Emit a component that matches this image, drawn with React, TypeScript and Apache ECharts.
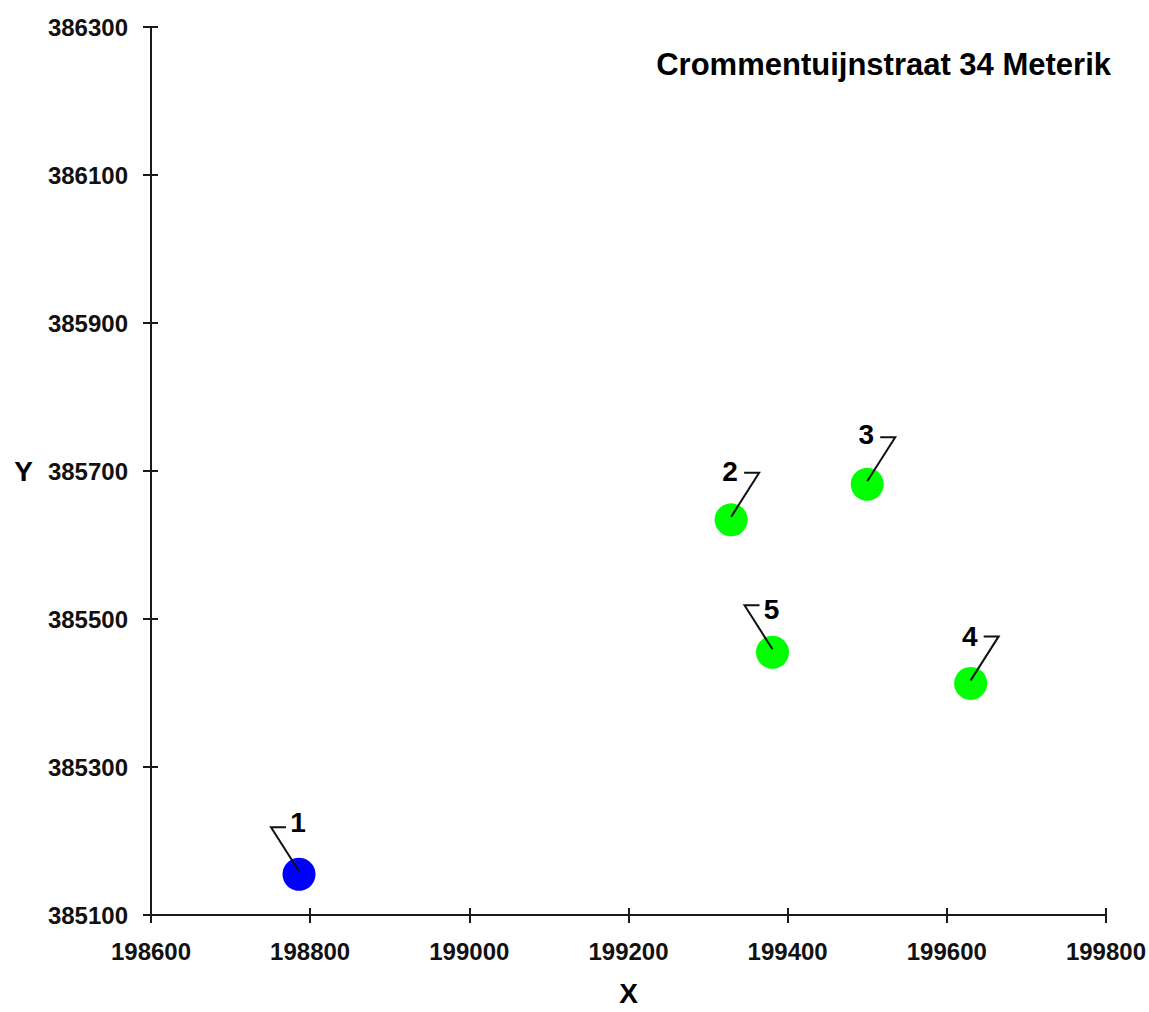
import React, { useEffect, useRef } from "react";
import * as echarts from "echarts";

const titleText = "Crommentuijnstraat 34 Meterik";
const pointIds = [1, 2, 3, 4, 5];
const xValues = [198786, 199329, 199500, 199630, 199381];
const yValues = [385155, 385634, 385682, 385413, 385455];
const pointColors = ["#0000FF", "#00FF00", "#00FF00", "#00FF00", "#00FF00"];
// label layout: side of the leader (-1 left, 1 right) and label vertical offset
const labelSide = [-1, 1, 1, 1, -1];
const labelDy = [-52, -48, -50, -47, -43];

const xMin = 198600;
const xMax = 199800;
const yMin = 385100;
const yMax = 386300;
const step = 200;

export default function App() {
  const ref = useRef<HTMLDivElement>(null);
  useEffect(() => {
    document.body.style.margin = "0";
    document.body.style.overflow = "hidden";
    document.documentElement.style.overflow = "hidden";
    const chart = echarts.init(ref.current!, null, { renderer: "svg" });
    const font = "Liberation Sans, Arial, sans-serif";
    const pts = xValues.map((x, i) => [x, yValues[i]]);
    const baseAxis = {
      axisLine: { show: true, lineStyle: { color: "#1a1a1a", width: 2 } },
      splitLine: { show: false },
    };
    const fmt = (v: number) => String(v);
    chart.setOption({
      animation: false,
      backgroundColor: "#ffffff",
      title: {
        text: titleText,
        right: 33,
        top: 44,
        textStyle: { fontFamily: font, fontWeight: "bold", fontSize: 31, color: "#000" },
      },
      grid: { left: 151, right: 43, top: 27, bottom: 94, containLabel: false },
      xAxis: [
        {
          ...baseAxis,
          type: "value",
          position: "bottom",
          min: xMin,
          max: xMax,
          interval: step,
          name: "X",
          nameLocation: "middle",
          nameGap: 64,
          nameTextStyle: { fontFamily: font, fontWeight: "bold", fontSize: 28, color: "#000" },
          axisTick: { show: true, length: 8, lineStyle: { color: "#1a1a1a", width: 2 } },
          axisLabel: {
            margin: 24,
            fontFamily: font,
            fontWeight: "bold",
            fontSize: 24,
            color: "#111",
            formatter: fmt,
          },
        },
        {
          ...baseAxis,
          type: "value",
          position: "bottom",
          offset: 0,
          min: xMin,
          max: xMax,
          interval: step,
          axisTick: { show: true, inside: true, length: 7, lineStyle: { color: "#1a1a1a", width: 2 } },
          axisLabel: { show: false },
        },
      ],
      yAxis: [
        {
          ...baseAxis,
          type: "value",
          position: "left",
          min: yMin,
          max: yMax,
          interval: step,
          name: "Y",
          nameLocation: "middle",
          nameRotate: 0,
          nameGap: 118,
          nameTextStyle: { fontFamily: font, fontWeight: "bold", fontSize: 28, color: "#000" },
          axisTick: { show: true, length: 8, lineStyle: { color: "#1a1a1a", width: 2 } },
          axisLabel: {
            margin: 23,
            fontFamily: font,
            fontWeight: "bold",
            fontSize: 24,
            color: "#111",
            formatter: fmt,
          },
        },
        {
          ...baseAxis,
          type: "value",
          position: "left",
          offset: 0,
          min: yMin,
          max: yMax,
          interval: step,
          axisTick: { show: true, inside: true, length: 7, lineStyle: { color: "#1a1a1a", width: 2 } },
          axisLabel: { show: false },
        },
      ],
      series: [
        {
          type: "scatter",
          xAxisIndex: 0,
          yAxisIndex: 0,
          symbol: "circle",
          symbolSize: 33,
          z: 2,
          data: pts.map((p, i) => ({ value: p, itemStyle: { color: pointColors[i], opacity: 1 } })),
        },
        {
          type: "custom",
          xAxisIndex: 0,
          yAxisIndex: 0,
          z: 5,
          data: pts,
          renderItem: (params: any, api: any) => {
            const i = params.dataIndex;
            const c = api.coord([api.value(0), api.value(1)]);
            const s = labelSide[i];
            return {
              type: "group",
              children: [
                {
                  type: "polyline",
                  shape: {
                    points: [
                      [c[0], c[1] - 3],
                      [c[0] + s * 28, c[1] - 47],
                      [c[0] + s * 13, c[1] - 47],
                    ],
                  },
                  style: { stroke: "#111", lineWidth: 2, fill: null },
                },
                {
                  type: "text",
                  x: c[0] - 1,
                  y: c[1] + labelDy[i],
                  style: {
                    text: String(pointIds[i]),
                    font: "bold 28px Liberation Sans, Arial, sans-serif",
                    fill: "#000",
                    align: "center",
                    verticalAlign: "middle",
                  },
                },
              ],
            };
          },
        },
      ],
    });
    return () => chart.dispose();
  }, []);
  return <div ref={ref} style={{ width: 1149, height: 1012, overflow: "hidden" }} />;
}
